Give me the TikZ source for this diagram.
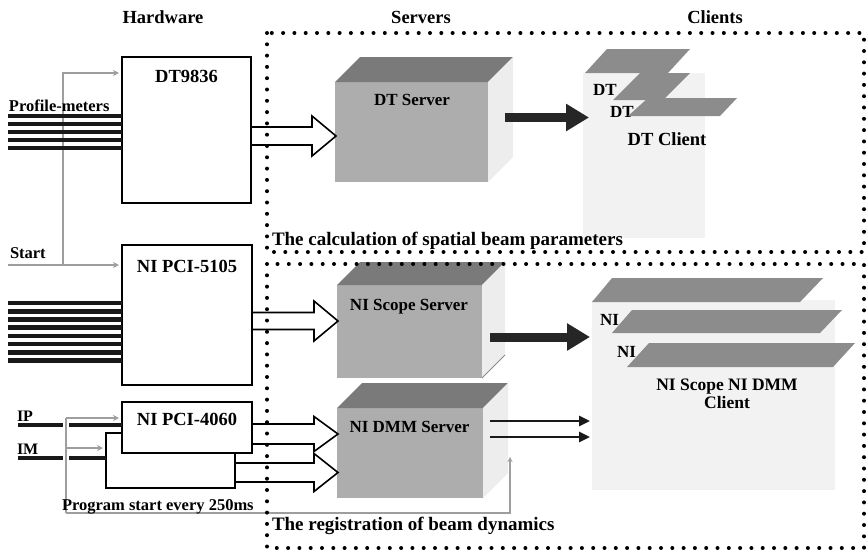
\documentclass[tikz,border=0pt]{standalone}
\usepackage{fontspec}
\setmainfont{Liberation Serif}
\usetikzlibrary{arrows.meta,calc}

% bold text at a given size
\newcommand{\boldsz}[1]{\fontsize{#1}{#1}\selectfont\bfseries}

% server drawn as a box in perspective: front face node, top face, side face
% #1 name, #2 #3 centre of front face, #4 width, #5 height, #6 depth
\newcommand{\srvbox}[6]{%
  \node[srvfront, minimum width=#4pt, minimum height=#5pt] (#1) at (#2,#3) {};
  \fill[srvtop] (#1.north west) -- ++(#6,-#6) -- ($(#1.north east)+(#6,-#6)$) -- (#1.north east) -- cycle;
  \fill[srvside] (#1.north east) -- ++(#6,-#6) -- ($(#1.south east)+(#6,-#6)$) -- (#1.south east) -- cycle;
}

% outlined block arrow from the east side of #1 to the west side of #2
% #3 axis height, #4 half width of the shaft, #5 half width of the head
\newcommand{\blockarrow}[5]{%
  \coordinate (ba-s) at (#1.east |- 0,#3);
  \coordinate (ba-t) at ($(#2.west |- 0,#3)+(1,0)$);
  \draw[hollow] ($(ba-s)+(0,-#4)$) -- ($(ba-t)+(-24,-#4)$) -- ($(ba-t)+(-24,-#5)$)
    -- (ba-t) -- ($(ba-t)+(-24,#5)$) -- ($(ba-t)+(-24,#4)$) -- ($(ba-s)+(0,#4)$);
}

\begin{document}
\begin{tikzpicture}[x=1pt,y=-1pt,
  lbl/.style={inner sep=0pt, outer sep=0pt, anchor=base},
  hwbox/.style={draw, line width=1.6pt, fill=white, inner sep=0pt, outer sep=0pt},
  bus/.style={line width=4.6pt, black!90},
  trig/.style={draw=black!38, line width=1.4pt},
  trigtip/.style={-{Stealth[length=6pt,width=6pt]}, shorten >=3pt},
  hollow/.style={line width=1.6pt, line join=miter},
  fatarrow/.style={line width=9pt, black!85, -{Triangle[length=23pt,width=26pt]}},
  thinarrow/.style={line width=2.6pt, black!90, -{Triangle[length=11pt,width=10pt]}},
  dotframe/.style={line width=4pt, line cap=round, dash pattern=on 0pt off 11.3pt},
  srvfront/.style={fill=black!32, inner sep=0pt, outer sep=0pt},
  srvtop/.style={fill=black!52},
  srvside/.style={fill=black!7},
  clientarea/.style={fill=black!5, inner sep=0pt, outer sep=0pt},
  card/.style={fill=black!45},
]
\useasboundingbox (0,0) rectangle (866,557);

% column titles
\node[lbl, font=\boldsz{18.5}] (t-hw)  at (163,23) {Hardware};
\node[lbl, font=\boldsz{18.5}] (t-srv) at (421,23) {Servers};
\node[lbl, font=\boldsz{18.5}] (t-cli) at (715,23) {Clients};

% ---------- clients ----------
\node[clientarea, minimum width=122pt, minimum height=165pt] (dtcli) at (644,155.5) {};
\node[clientarea, minimum width=243pt, minimum height=190pt] (sccli) at (713.5,395) {};

% DT client windows
\fill[card] (585,73) -- (607,49) -- (690,49) -- (668,73) -- cycle;
\node[lbl, anchor=base west, font=\boldsz{17}] (dt-a) at (593,95) {DT};
\fill[card] (613,100) -- (640,73) -- (690,73) -- (663,100) -- cycle;
\node[lbl, anchor=base west, font=\boldsz{17}] (dt-b) at (610,117) {DT};
\fill[card] (628,116) -- (648,98) -- (737,98) -- (720,116) -- cycle;
\node[lbl, font=\boldsz{18.5}] (dt-client) at (667,145) {DT Client};

% NI client windows
\fill[card] (592,302) -- (612,278) -- (823,278) -- (800,302) -- cycle;
\node[lbl, anchor=base west, font=\boldsz{17}] (ni-a) at (600,325) {NI};
\fill[card] (612,333) -- (632,310) -- (842,310) -- (820,333) -- cycle;
\node[lbl, anchor=base west, font=\boldsz{17}] (ni-b) at (617,357) {NI};
\fill[card] (627,367) -- (649,343) -- (855,343) -- (833,367) -- cycle;
\node[lbl, font=\boldsz{17.5}] (ni-client1) at (727,390) {NI Scope NI DMM};
\node[lbl, font=\boldsz{17.5}] (ni-client2) at (727,408) {Client};

% ---------- servers ----------
\srvbox{dtsrv}{411.5}{132}{153}{100}{25}
\srvbox{scsrv}{409.5}{331.5}{145}{93}{23}
\srvbox{dmmsrv}{410}{453}{146}{90}{25}
\draw[black!45, line width=0.8pt] (scsrv.south east) -- ++(23,-23);
\node[lbl, font=\boldsz{17}] (dtsrv-t)  at (412,105) {DT Server};
\node[lbl, font=\boldsz{17}] (scsrv-t)  at (409,310) {NI Scope Server};
\node[lbl, font=\boldsz{17}] (dmmsrv-t) at (409.5,432) {NI DMM Server};

% ---------- hardware ----------
\node[hwbox, minimum width=129pt, minimum height=146pt] (dt9836)  at (186.5,130) {};
\node[hwbox, minimum width=130pt, minimum height=140pt] (pci5105) at (187,315) {};
\node[hwbox, minimum width=129pt, minimum height=55pt]  (backbox) at (170.5,460.5) {};
\node[hwbox, minimum width=130pt, minimum height=51pt]  (pci4060) at (187,427.5) {};
\node[lbl, font=\boldsz{18.5}] (dt9836-t)  at (186.5,82) {DT9836};
\node[lbl, font=\boldsz{18.5}] (pci5105-t) at (187,272) {NI PCI-5105};
\node[lbl, font=\boldsz{18.5}] (pci4060-t) at (187,425) {NI PCI-4060};

% trigger lines (grey)
\coordinate (startin) at (8,265);
\draw[trig, trigtip] (startin) -- (pci5105.west |- startin);
\draw[trig, trigtip] (63,265) |- (dt9836.west |- 0,73);

% profile-meter inputs
\foreach \y in {116,124,132,140,148}
  \draw[bus] (8,\y) -- (dt9836.west |- 0,\y);
\node[lbl, anchor=base west, font=\boldsz{16.5}] (pm-t) at (9,111) {Profile-meters};
\node[lbl, anchor=base west, font=\boldsz{16.5}] (start-t) at (10,258) {Start};

% scope inputs
\foreach \y in {303,311.2,319.4,327.6,335.8,344,352.2,360.4}
  \draw[bus] (8,\y) -- (pci5105.west |- 0,\y);

% IP / IM inputs
\coordinate (ipin) at (18,425);
\coordinate (imin) at (18,458);
\draw[bus] (ipin) -- (pci4060.west |- ipin);
\draw[bus] (imin) -- (backbox.west |- imin);
\node[lbl, anchor=base west, font=\boldsz{16}] (ip-t) at (17,421) {IP};
\node[lbl, anchor=base west, font=\boldsz{16}] (im-t) at (17,454) {IM};

% periodic program start
\draw[trig, preaction={draw=white, line width=6pt}] (66,418) -- (66,513);
\draw[trig, -{Stealth[length=5pt,width=5pt]}] (66,513) -- (510,513) -- (510,457);
\draw[trig, trigtip] (66,418) -- (pci4060.west |- 0,418);
\draw[trig, trigtip] (66,448) -- (backbox.west |- 0,448);
\node[lbl, anchor=base west, font=\boldsz{16.5}] (prog-t) at (62,510) {Program start every 250ms};

% ---------- frames ----------
\draw[dotframe] (267,33) rectangle (864,252);
\draw[dotframe] (267,264) rectangle (864,548);
\node[lbl, anchor=base west, font=\boldsz{19}] (calc-t) at (272,245) {The calculation of spatial beam parameters};
\node[lbl, anchor=base west, font=\boldsz{19}] (reg-t) at (272,530) {The registration of beam dynamics};

% ---------- data flow ----------
\blockarrow{dt9836}{dtsrv}{136}{9}{20}
\blockarrow{pci5105}{scsrv}{321}{8.5}{20}
\blockarrow{pci4060}{dmmsrv}{434}{10}{17.5}
\blockarrow{backbox}{dmmsrv}{472.5}{9.5}{19}

\draw[fatarrow] ($(dtsrv.east |- 0,117.5)+(17,0)$) -- ($(dtcli.west |- 0,117.5)+(6,0)$);
\draw[fatarrow] ($(scsrv.east |- 0,337)+(8,0)$) -- ($(sccli.west |- 0,337)+(-2,0)$);
\draw[thinarrow] ($(dmmsrv.east |- 0,421)+(7,0)$) -- ($(sccli.west |- 0,421)+(-2,0)$);
\draw[thinarrow] ($(dmmsrv.east |- 0,437)+(7,0)$) -- ($(sccli.west |- 0,437)+(-2,0)$);

\end{tikzpicture}
\end{document}
